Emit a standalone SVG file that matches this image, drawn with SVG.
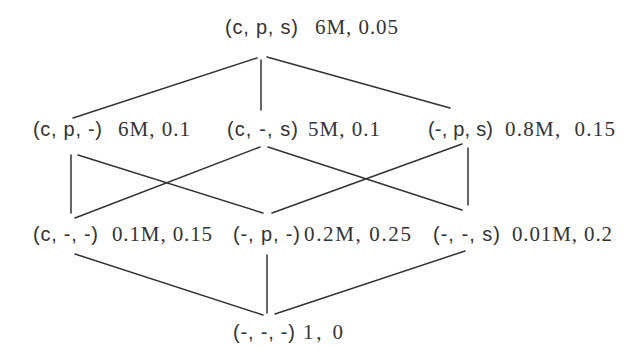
<svg xmlns="http://www.w3.org/2000/svg" width="635" height="349" viewBox="0 0 635 349">
<style>
.t{font-family:"Liberation Sans",Arial,sans-serif;font-size:20px;fill:#333}
.n{font-family:"Liberation Serif","Times New Roman",serif;font-size:21px;fill:#333}
.e line{stroke:#333;stroke-width:1.5;stroke-linecap:round}
</style>
<rect width="635" height="349" fill="#fff"/>
<g id="connectors" class="e">
<line x1="257" y1="58" x2="73" y2="118"/>
<line x1="261" y1="60" x2="261" y2="110"/>
<line x1="267" y1="57" x2="450" y2="108"/>
<line x1="71" y1="155" x2="71" y2="213"/>
<line x1="78" y1="155" x2="263" y2="213"/>
<line x1="75" y1="218" x2="260" y2="147"/>
<line x1="268" y1="147" x2="462" y2="210"/>
<line x1="272" y1="213" x2="462" y2="144"/>
<line x1="468" y1="148" x2="468" y2="205"/>
<line x1="75" y1="254" x2="263" y2="315"/>
<line x1="267" y1="255" x2="267" y2="313"/>
<line x1="275" y1="314" x2="465" y2="251"/>
</g>
<g id="cps"><text class="t" x="225" y="34" textLength="73">(c, p, s)</text><text class="n" x="315" y="34" textLength="83">6M, 0.05</text></g>
<g id="cp_"><text class="t" x="33" y="136" textLength="69">(c, p, -)</text><text class="n" x="118" y="136" textLength="72">6M, 0.1</text></g>
<g id="c_s"><text class="t" x="227" y="136" textLength="71">(c, -, s)</text><text class="n" x="308" y="136" textLength="72">5M, 0.1</text></g>
<g id="_ps"><text class="t" x="428" y="136" textLength="65">(-, p, s)</text><text class="n" x="505" y="136" textLength="110" xml:space="preserve">0.8M,  0.15</text></g>
<g id="c__"><text class="t" x="33" y="241" textLength="65">(c, -, -)</text><text class="n" x="112" y="241" textLength="100">0.1M, 0.15</text></g>
<g id="_p_"><text class="t" x="233" y="241" textLength="67">(-, p, -)</text><text class="n" x="304" y="241" textLength="107">0.2M, 0.25</text></g>
<g id="__s"><text class="t" x="433" y="241" textLength="67">(-, -, s)</text><text class="n" x="512" y="241" textLength="100">0.01M, 0.2</text></g>
<g id="___"><text class="t" x="233" y="339" textLength="62">(-, -, -)</text><text class="n" x="303" y="339" textLength="40">1, 0</text></g>
</svg>
